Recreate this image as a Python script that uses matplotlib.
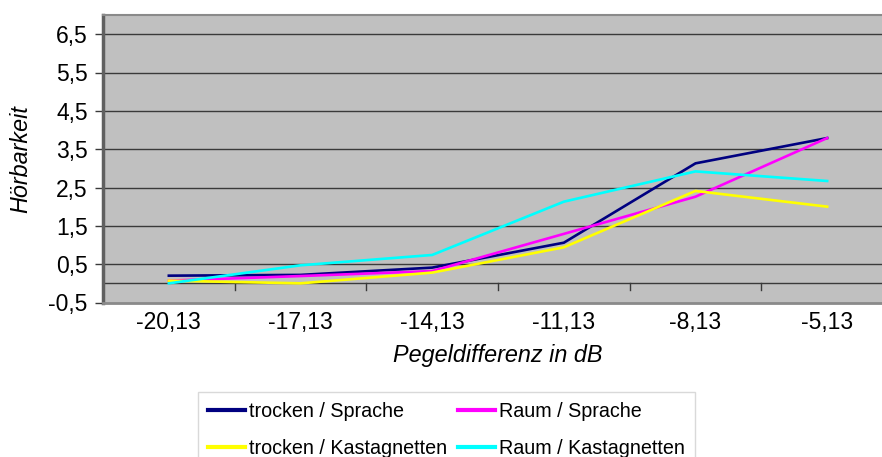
import matplotlib
matplotlib.use("Agg")
import matplotlib.pyplot as plt
import numpy as np

plt.rcParams['font.family'] = ['Liberation Sans', 'DejaVu Sans']

categories = ["-20,13", "-17,13", "-14,13", "-11,13", "-8,13", "-5,13"]
trocken_sprache = [0.20, 0.22, 0.41, 1.06, 3.13, 3.79]
raum_sprache = [0.07, 0.19, 0.32, 1.29, 2.26, 3.79]
trocken_kast = [0.07, 0.00, 0.28, 0.94, 2.41, 2.00]
raum_kast = [0.00, 0.47, 0.74, 2.13, 2.92, 2.67]
yticks = [-0.5, 0.5, 1.5, 2.5, 3.5, 4.5, 5.5, 6.5]
ytick_labels = ["-0,5", "0,5", "1,5", "2,5", "3,5", "4,5", "5,5", "6,5"]

W, H = 882, 457
fig = plt.figure(figsize=(W / 100, H / 100), dpi=100)
left, right, top, bottom = 103, 893, 15, 302.5
ax = fig.add_axes([left / W, 1 - bottom / H, (right - left) / W, (bottom - top) / H])
ax.set_facecolor('#C0C0C0')

x = np.arange(len(categories))
ax.set_xlim(-0.5, len(categories) - 0.5)
ax.set_ylim(-0.5, 7.0)

for yv in yticks[1:]:
    ax.axhline(yv, color='#3a3a3a', lw=1.0, zorder=1)
ax.axhline(0, color='#3a3a3a', lw=1.0, zorder=1)
for b in np.arange(0.5, len(categories), 1.0):
    ax.plot([b, b], [0, -0.18], color='#3a3a3a', lw=1.0, zorder=1, clip_on=True)

lw = 1.9
l1, = ax.plot(x, trocken_sprache, color='#000080', lw=lw, zorder=3, label='trocken / Sprache')
l2, = ax.plot(x, raum_sprache, color='#FF00FF', lw=lw, zorder=3, label='Raum / Sprache')
l3, = ax.plot(x, trocken_kast, color='#FFFF00', lw=lw, zorder=3, label='trocken / Kastagnetten')
l4, = ax.plot(x, raum_kast, color='#00FFFF', lw=lw, zorder=3, label='Raum / Kastagnetten')

ax.set_yticks(yticks)
ax.set_yticklabels(ytick_labels)
ax.set_xticks(x)
ax.set_xticklabels(categories)
ax.tick_params(axis='y', direction='out', length=6, width=1, color='#3a3a3a', labelsize=16.5, pad=5)
ax.tick_params(axis='x', length=0, labelsize=16.5, pad=6)

ax.spines['left'].set_color('#606060'); ax.spines['left'].set_linewidth(2.5)
ax.spines['bottom'].set_color('#8a8a8a'); ax.spines['bottom'].set_linewidth(2)
ax.spines['top'].set_color('#8a8a8a'); ax.spines['top'].set_linewidth(1.5)
ax.spines['right'].set_visible(False)

ax.set_ylabel('Hörbarkeit', fontsize=16.8, style='italic')
ax.yaxis.set_label_coords((32 - left) / (right - left), 0.5)
ax.set_xlabel('Pegeldifferenz in dB', fontsize=16.8, style='italic', labelpad=7)

leg = fig.legend(handles=[l1, l3, l2, l4], loc='upper left',
                 bbox_to_anchor=(198 / W, 1 - 392 / H), ncol=2, fontsize=14.2,
                 frameon=True, fancybox=False, handlelength=1.88, handletextpad=0.2,
                 columnspacing=0.55, labelspacing=0.9, borderpad=0.5, borderaxespad=0)
leg.get_frame().set_edgecolor('#d0d0d0')
leg.get_frame().set_linewidth(1.0)
for h in leg.get_lines():
    h.set_linewidth(3)

fig.savefig('out.png', dpi=100)
